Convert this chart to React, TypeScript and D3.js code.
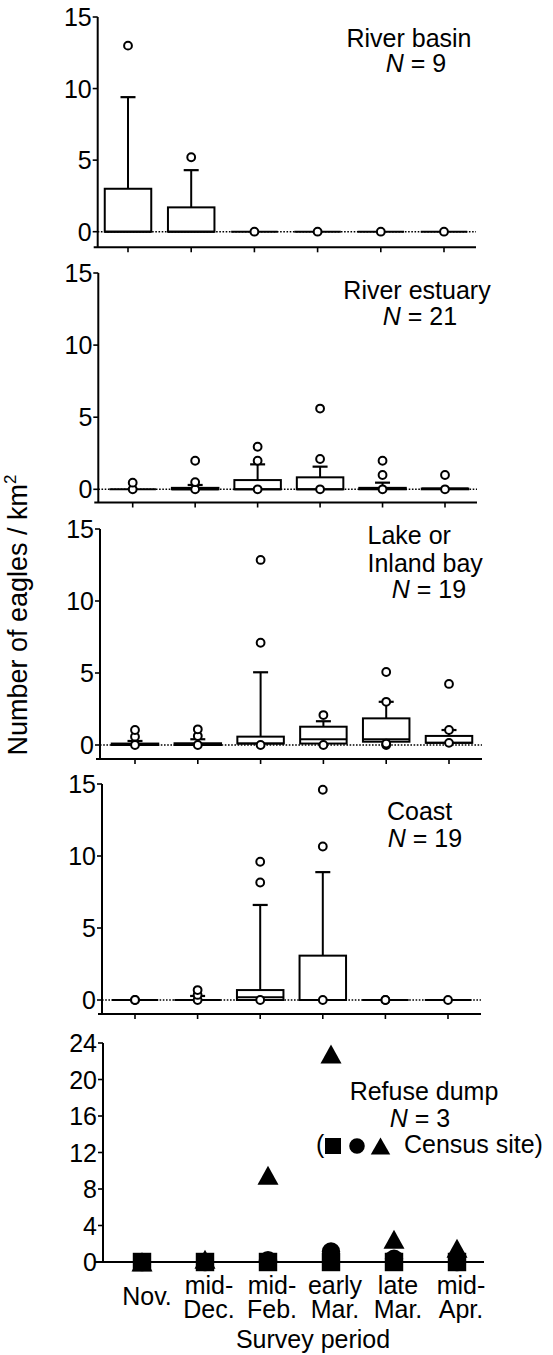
import React from "react";
import * as d3 from "d3";

const periods = ["Nov.", "mid-Dec.", "mid-Feb.", "early Mar.", "late Mar.", "mid-Apr."];
const periodLine1 = ["", "mid-", "mid-", "early", "late", "mid-"];
const periodLine2 = ["Nov.", "Dec.", "Feb.", "Mar.", "Mar.", "Apr."];
const boxTicks = [0, 5, 10, 15];
const dumpTicks = [0, 4, 8, 12, 16, 20, 24];

// River basin
const basinQ1 = [0, 0, 0, 0, 0, 0];
const basinMedian = [0, 0, 0, 0, 0, 0];
const basinQ3 = [3.0, 1.7, 0, 0, 0, 0];
const basinWhisker = [9.4, 4.3, 0, 0, 0, 0];
const basinOutliers = [[13], [5.2], [0], [0], [0], [0]];

// River estuary
const estuaryQ1 = [0, 0, 0, 0, 0, 0];
const estuaryMedian = [0, 0, 0, 0, 0.08, 0.05];
const estuaryQ3 = [0, 0.1, 0.64, 0.83, 0.1, 0.05];
const estuaryWhisker = [0, 0.3, 1.73, 1.57, 0.46, 0.05];
const estuaryOutliers = [[0, 0.46], [0, 0.5, 1.98], [0, 1.98, 2.95], [0, 2.1, 5.6], [0, 0.99, 1.98], [0, 0.99]];

// Lake or inland bay
const lakeQ1 = [0, 0, 0.1, 0.1, 0.23, 0.15];
const lakeMedian = [0.05, 0.05, 0.1, 0.4, 0.4, 0.15];
const lakeQ3 = [0.1, 0.12, 0.58, 1.27, 1.85, 0.63];
const lakeWhisker = [0.28, 0.4, 5.05, 1.65, 3.0, 1.04];
const lakeOutliers = [[0, 0.58, 1.04], [0, 0.62, 1.09], [0, 7.1, 12.85], [0, 2.08], [0, 0.1, 3.0, 5.07], [0.15, 1.04, 4.24]];

// Coast
const coastQ1 = [0, 0, 0, 0, 0, 0];
const coastMedian = [0, 0, 0.19, 0, 0, 0];
const coastQ3 = [0, 0, 0.69, 3.08, 0, 0];
const coastWhisker = [0, 0.28, 6.6, 8.88, 0, 0];
const coastOutliers = [[0, 0], [0, 0.35, 0.69], [0, 8.16, 9.6], [0, 10.66, 14.6], [0, 0], [0]];

// Refuse dump (three census sites)
const dumpSquare = [0, 0, 0, 0, 0, 0];
const dumpCircle = [0, 0, 0.2, 1.15, 0.35, 0];
const dumpTriangle = [0, 0.3, 9.5, 22.8, 2.5, 1.5];

const FONT = "'Liberation Sans', Arial, Helvetica, sans-serif";
const FS = 25;

type TitleLine = { text: string; italicN?: boolean; x: number; y: number; anchor?: string };

type BoxCfg = {
  axisX: number; first: number; last: number; right: number;
  y0: number; yTop: number; bottom: number;
  q1: number[]; med: number[]; q3: number[]; whisk: number[]; outl: number[][];
  title: TitleLine[];
};

function Title({ lines }: { lines: TitleLine[] }) {
  return (
    <g>
      {lines.map((l, i) => (
        <text key={i} x={l.x} y={l.y} textAnchor={l.anchor || "middle"} fontSize={FS} fontFamily={FONT}>
          {l.italicN ? (
            <>
              <tspan fontStyle="italic">N</tspan>
              <tspan>{" = " + l.text}</tspan>
            </>
          ) : (
            l.text
          )}
        </text>
      ))}
    </g>
  );
}

function YTicks({ ticks, y, axisX }: { ticks: number[]; y: (v: number) => number; axisX: number }) {
  return (
    <g>
      {ticks.map((t) => (
        <g key={t}>
          <line x1={axisX - 5} x2={axisX} y1={y(t)} y2={y(t)} stroke="#000" strokeWidth={1.6} />
          <text x={axisX - 6} y={y(t) + 9} textAnchor="end" fontSize={FS} fontFamily={FONT}>{t}</text>
        </g>
      ))}
    </g>
  );
}

function BoxPanel({ cfg }: { cfg: BoxCfg }) {
  const x = d3.scalePoint<string>().domain(periods).range([cfg.first, cfg.last]);
  const y = d3.scaleLinear().domain([0, 15]).range([cfg.y0, cfg.yTop]);
  const bw = 46.5;
  const cw = 15;
  return (
    <g>
      <line x1={cfg.axisX} x2={cfg.right} y1={y(0)} y2={y(0)} stroke="#000" strokeWidth={1.6} strokeDasharray="1.6,1.6" />
      <line x1={cfg.axisX} x2={cfg.axisX} y1={y(15)} y2={cfg.bottom} stroke="#000" strokeWidth={2} />
      <YTicks ticks={boxTicks} y={y} axisX={cfg.axisX} />
      <line x1={cfg.axisX - 4} x2={cfg.right} y1={cfg.bottom} y2={cfg.bottom} stroke="#000" strokeWidth={2} />
      {periods.map((p) => (
        <line key={p} x1={x(p)!} x2={x(p)!} y1={cfg.bottom} y2={cfg.bottom + 5} stroke="#000" strokeWidth={1.6} />
      ))}
      {periods.map((p, i) => {
        const cx = x(p)!;
        const hasBox = cfg.q3[i] > cfg.q1[i] + 0.02;
        return (
          <g key={p}>
            {cfg.whisk[i] > cfg.q3[i] && (
              <>
                <line x1={cx} x2={cx} y1={y(cfg.q3[i])} y2={y(cfg.whisk[i])} stroke="#000" strokeWidth={2} />
                <line x1={cx - cw / 2} x2={cx + cw / 2} y1={y(cfg.whisk[i])} y2={y(cfg.whisk[i])} stroke="#000" strokeWidth={2.2} />
              </>
            )}
            {hasBox && (
              <rect x={cx - bw / 2} y={y(cfg.q3[i])} width={bw} height={y(cfg.q1[i]) - y(cfg.q3[i])} fill="#fff" stroke="#000" strokeWidth={2} />
            )}
            <line x1={cx - bw / 2} x2={cx + bw / 2} y1={y(cfg.med[i])} y2={y(cfg.med[i])} stroke="#000" strokeWidth={2} />
            {cfg.outl[i].map((v, k) => (
              <circle key={k} cx={cx} cy={y(v)} r={3.9} fill="#fff" stroke="#000" strokeWidth={2} />
            ))}
          </g>
        );
      })}
      <Title lines={cfg.title} />
    </g>
  );
}

function DumpPanel() {
  const axisX = 103, first = 142, last = 457, right = 484, y0 = 1262, yTop = 1043;
  const x = d3.scalePoint<string>().domain(periods).range([first, last]);
  const y = d3.scaleLinear().domain([0, 24]).range([y0, yTop]);
  const sq = d3.symbol().type(d3.symbolSquare).size(340)()!;
  const ci = d3.symbol().type(d3.symbolCircle).size(265)()!;
  const tri = (w: number, h: number) => `M0,${-h / 2}L${w / 2},${h / 2}L${-w / 2},${h / 2}Z`;
  return (
    <g>
      <line x1={axisX - 8} x2={right} y1={y(0)} y2={y(0)} stroke="#000" strokeWidth={2} />
      <line x1={axisX} x2={axisX} y1={y(24)} y2={y(0)} stroke="#000" strokeWidth={2} />
      <YTicks ticks={dumpTicks} y={y} axisX={axisX} />
      {periods.map((p, i) => (
        <path key={"t" + p} d={tri(21, 19)} transform={`translate(${x(p)},${y(dumpTriangle[i])})`} fill="#000" />
      ))}
      {periods.map((p, i) => (
        <path key={"c" + p} d={ci} transform={`translate(${x(p)},${y(dumpCircle[i])})`} fill="#000" />
      ))}
      {periods.map((p, i) => (
        <path key={"s" + p} d={sq} transform={`translate(${x(p)},${y(dumpSquare[i])})`} fill="#000" />
      ))}
      {periods.map((p, i) => (
        <g key={"l" + p}>
          {periodLine1[i] ? (
            <>
              <text x={x(p)! + 4} y={1294} textAnchor="middle" fontSize={FS} fontFamily={FONT}>{periodLine1[i]}</text>
              <text x={x(p)! + 4} y={1317.5} textAnchor="middle" fontSize={FS} fontFamily={FONT}>{periodLine2[i]}</text>
            </>
          ) : (
            <text x={x(p)! + 5} y={1305} textAnchor="middle" fontSize={FS} fontFamily={FONT}>{periodLine2[i]}</text>
          )}
        </g>
      ))}
      <text x={313} y={1348} textAnchor="middle" fontSize={FS} fontFamily={FONT}>Survey period</text>
      <Title
        lines={[
          { text: "Refuse dump", x: 424, y: 1100 },
          { text: "3", italicN: true, x: 420, y: 1127 },
        ]}
      />
      <text x={316} y={1153} fontSize={FS} fontFamily={FONT}>(</text>
      <path d={d3.symbol().type(d3.symbolSquare).size(256)()!} transform="translate(333,1146)" fill="#000" />
      <path d={d3.symbol().type(d3.symbolCircle).size(190)()!} transform="translate(357,1146)" fill="#000" />
      <path d={tri(19.5, 17)} transform="translate(380.5,1146)" fill="#000" />
      <text x={404} y={1153} fontSize={FS} fontFamily={FONT}>Census site)</text>
    </g>
  );
}

const panels: BoxCfg[] = [
  {
    axisX: 97.7, first: 128, last: 444, right: 476, y0: 231.7, yTop: 17, bottom: 247.3,
    q1: basinQ1, med: basinMedian, q3: basinQ3, whisk: basinWhisker, outl: basinOutliers,
    title: [
      { text: "River basin", x: 409, y: 47 },
      { text: "9", italicN: true, x: 416, y: 72 },
    ],
  },
  {
    axisX: 98.3, first: 132.7, last: 445, right: 477, y0: 489.3, yTop: 273, bottom: 502.5,
    q1: estuaryQ1, med: estuaryMedian, q3: estuaryQ3, whisk: estuaryWhisker, outl: estuaryOutliers,
    title: [
      { text: "River estuary", x: 417, y: 299 },
      { text: "21", italicN: true, x: 420, y: 325 },
    ],
  },
  {
    axisX: 100, first: 135, last: 449, right: 482, y0: 745, yTop: 529, bottom: 759,
    q1: lakeQ1, med: lakeMedian, q3: lakeQ3, whisk: lakeWhisker, outl: lakeOutliers,
    title: [
      { text: "Lake or", x: 367.5, y: 544, anchor: "start" },
      { text: "Inland bay", x: 367.5, y: 571.5, anchor: "start" },
      { text: "19", italicN: true, x: 429, y: 598 },
    ],
  },
  {
    axisX: 102, first: 135, last: 448, right: 481, y0: 1000, yTop: 784, bottom: 1014,
    q1: coastQ1, med: coastMedian, q3: coastQ3, whisk: coastWhisker, outl: coastOutliers,
    title: [
      { text: "Coast", x: 387, y: 820, anchor: "start" },
      { text: "19", italicN: true, x: 425, y: 847 },
    ],
  },
];

export default function App() {
  return (
    <svg width={553} height={1355} style={{ position: "absolute", left: 0, top: 0, background: "#fff" }}>
      <rect width={553} height={1355} fill="#fff" />
      {panels.map((c, i) => (
        <BoxPanel key={i} cfg={c} />
      ))}
      <DumpPanel />
      <text transform="translate(27,615) rotate(-90)" textAnchor="middle" fontSize={27} fontFamily={FONT}>
        Number of eagles / km<tspan fontSize={17} dy={-11}>2</tspan>
      </text>
    </svg>
  );
}
